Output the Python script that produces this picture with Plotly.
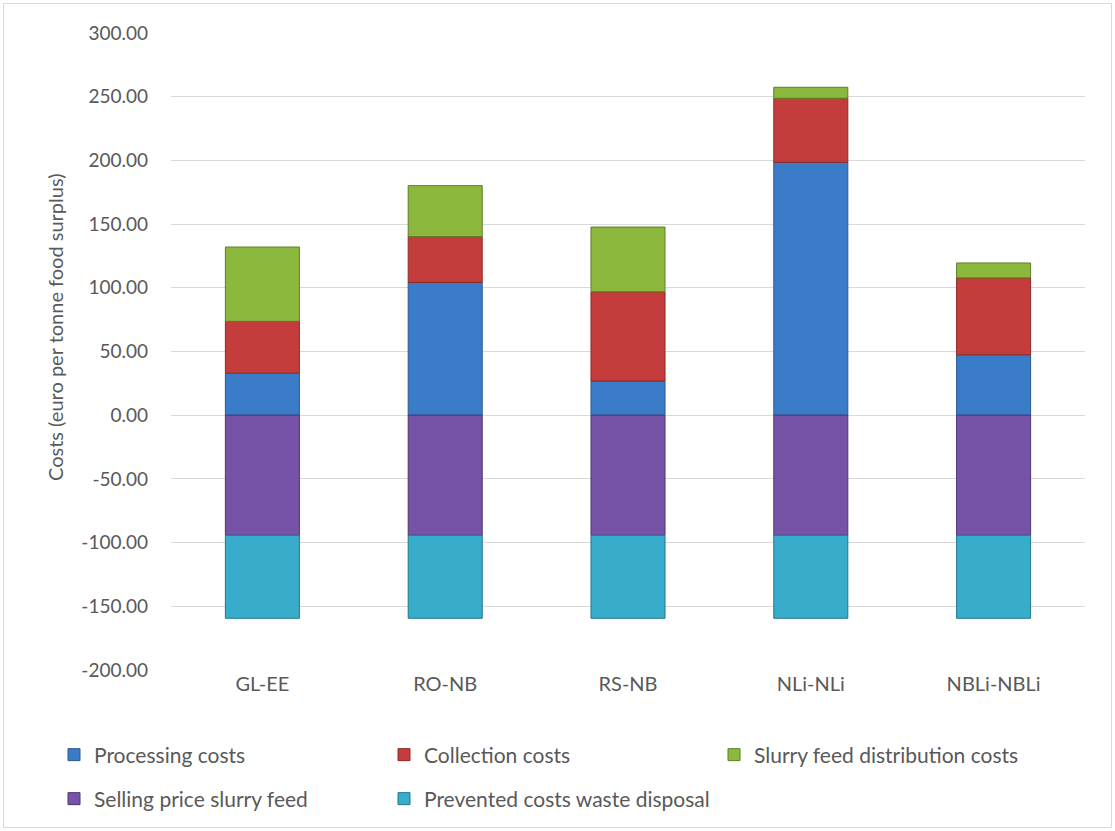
import plotly.graph_objects as go

categories = ["GL-EE", "RO-NB", "RS-NB", "NLi-NLi", "NBLi-NBLi"]
processing = [33.0, 104.2, 26.8, 198.5, 47.4]
collection = [40.7, 36.0, 70.1, 50.3, 60.4]
slurry_dist = [58.3, 40.0, 50.8, 8.6, 11.7]
selling_price = [-94.3, -94.3, -94.3, -94.3, -94.3]
prevented = [-65.1, -65.1, -65.1, -65.1, -65.1]
yticks = [-200, -150, -100, -50, 0, 50, 100, 150, 200, 250, 300]

series = [
    ("Processing costs", processing, "#3B7CC8", "#2A5A92"),
    ("Collection costs", collection, "#C43C3B", "#8E2A29"),
    ("Slurry feed distribution costs", slurry_dist, "#8DB83E", "#5F7E27"),
    ("Selling price slurry feed", selling_price, "#7653A6", "#4F3572"),
    ("Prevented costs waste disposal", prevented, "#37ACCB", "#23778E"),
]
# legend slot (pixel left, pixel row centre) for each series
legend_slots = [(54, 755), (384, 755), (714, 755), (54, 799), (384, 799)]

FONT = "Lato, 'Open Sans', sans-serif"
GREY = "#595959"
fig = go.Figure()
for i, (name, vals, col, edge) in enumerate(series):
    fig.add_trace(go.Bar(
        x=categories, y=vals, name=name,
        marker=dict(color=col, line=dict(color=edge, width=1)),
        width=0.405, legend="legend" if i == 0 else f"legend{i + 1}",
    ))

L, R, T, B = 171, 30, 33, 161
W, H = 1115, 831
pw, ph = W - L - R, H - T - B

def px(x):
    return (x - L) / pw

def py(y):
    return (H - B - y) / ph

legends = {}
for i, (lx, ly) in enumerate(legend_slots):
    key = "legend" if i == 0 else f"legend{i + 1}"
    legends[key] = dict(
        orientation="h", xref="container", yref="container",
        x=lx / W, y=1 - ly / H, xanchor="left", yanchor="middle",
        font=dict(size=21, color=GREY), bgcolor="rgba(0,0,0,0)",
        itemclick=False,
    )

fig.update_layout(
    barmode="relative",
    width=W, height=H,
    margin=dict(l=L, r=R, t=T, b=B),
    paper_bgcolor="white", plot_bgcolor="white",
    font=dict(family=FONT, size=19, color=GREY),
    xaxis=dict(showgrid=False, showline=False, ticks="", tickfont=dict(size=20, color=GREY)),
    yaxis=dict(
        range=[-200, 300], tickvals=yticks,
        ticktext=[f"{v:.2f}" for v in yticks],
        showgrid=True, gridcolor="#D9D9D9", gridwidth=1,
        zeroline=True, zerolinecolor="#D9D9D9", zerolinewidth=1,
        showline=False, ticks="", ticklabelstandoff=22,
        tickfont=dict(size=19, color=GREY),
    ),
    showlegend=True,
    annotations=[dict(
        text="Costs (euro per tonne food surplus)", textangle=-90,
        xref="paper", yref="paper", x=px(55), y=py(327),
        xanchor="center", yanchor="middle", showarrow=False,
        font=dict(size=20, color=GREY),
    )],
    shapes=[dict(
        type="rect", xref="paper", yref="paper",
        x0=px(3.5), x1=px(1111.5), y0=py(827.5), y1=py(3.5),
        line=dict(color="#D9D9D9", width=1), fillcolor="rgba(0,0,0,0)", layer="below",
    )],
    **legends,
)

fig.write_html(
    "out.html",
    config={"displayModeBar": False},
    post_script="document.body.style.margin='0';document.body.style.overflow='hidden';",
)
